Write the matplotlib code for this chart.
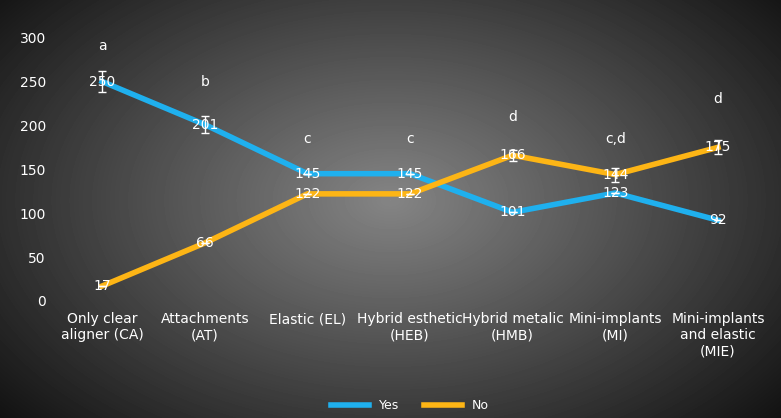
import numpy as np
import matplotlib
matplotlib.use("Agg")
import matplotlib.pyplot as plt

categories = ["Only clear\naligner (CA)", "Attachments\n(AT)", "Elastic (EL)", "Hybrid esthetic\n(HEB)",
              "Hybrid metalic\n(HMB)", "Mini-implants\n(MI)", "Mini-implants\nand elastic\n(MIE)"]
yes_vals = [250, 201, 145, 145, 101, 123, 92]
no_vals = [17, 66, 122, 122, 166, 144, 175]
yes_err = [12, 10, 0, 0, 0, 0, 0]
no_err = [0, 0, 0, 0, 6, 8, 8]
letters = ["a", "b", "c", "c", "d", "c,d", "d"]
letter_y = [290, 250, 185, 185, 210, 185, 230]

fig = plt.figure(figsize=(7.81, 4.18), dpi=100)
bg = fig.add_axes([0, 0, 1, 1])
yy, xx = np.mgrid[0:418, 0:781]
r = np.sqrt(((xx - 390) / 520) ** 2 + ((yy - 200) / 330) ** 2)
val = np.clip(0.52 - 0.45 * r, 0.03, 1)
bg.imshow(val, cmap="gray", vmin=0, vmax=1, aspect="auto")
bg.axis("off")

ax = fig.add_axes([0.065, 0.28, 0.92, 0.63])
ax.patch.set_alpha(0)
x = np.arange(len(categories))
ax.plot(x, yes_vals, color="#1FB0EE", lw=4, label="Yes", zorder=3)
ax.plot(x, no_vals, color="#FDB515", lw=4, label="No", zorder=3)
ax.errorbar(x, yes_vals, yerr=yes_err, fmt="none", ecolor="white", capsize=3, lw=1, zorder=4)
ax.errorbar(x, no_vals, yerr=no_err, fmt="none", ecolor="white", capsize=3, lw=1, zorder=4)
for i in range(len(x)):
    ax.text(x[i], yes_vals[i], str(yes_vals[i]), color="white", ha="center", va="center", fontsize=10, zorder=5)
    ax.text(x[i], no_vals[i], str(no_vals[i]), color="white", ha="center", va="center", fontsize=10, zorder=5)
    ax.text(x[i], letter_y[i], letters[i], color="white", ha="center", va="center", fontsize=10)
ax.set_xlim(-0.5, 6.5)
ax.set_ylim(0, 300)
ax.set_yticks(range(0, 301, 50))
ax.set_xticks(x)
ax.set_xticklabels(categories, color="white", fontsize=10, va="top")
ax.tick_params(axis="y", colors="white", labelsize=10, length=0)
ax.tick_params(axis="x", length=0, pad=8)
for s in ax.spines.values():
    s.set_visible(False)
ax.legend(loc="upper center", bbox_to_anchor=(0.5, -0.33), ncol=2, frameon=False,
          labelcolor="white", fontsize=9, handlelength=3)
fig.savefig("out.png", dpi=100)
